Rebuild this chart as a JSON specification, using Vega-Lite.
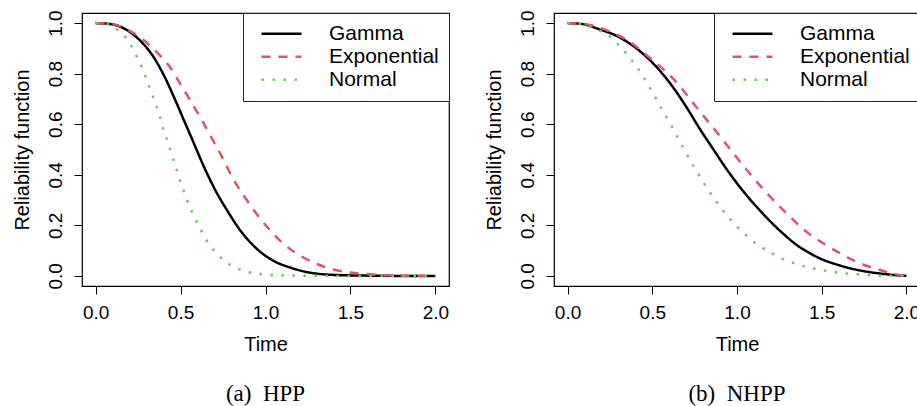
{
  "$schema": "https://vega.github.io/schema/vega-lite/v6.json",
  "padding": {"left": 11, "top": 9, "right": 0, "bottom": 0},
  "autosize": {"type": "pad"},
  "background": "white",
  "datasets": {
    "curves": [
      {"panel": "HPP", "curve": "Gamma", "time": 0, "reliability": 1},
      {"panel": "HPP", "curve": "Gamma", "time": 0.1, "reliability": 0.995},
      {"panel": "HPP", "curve": "Gamma", "time": 0.167, "reliability": 0.979},
      {"panel": "HPP", "curve": "Gamma", "time": 0.265, "reliability": 0.929},
      {"panel": "HPP", "curve": "Gamma", "time": 0.344, "reliability": 0.863},
      {"panel": "HPP", "curve": "Gamma", "time": 0.403, "reliability": 0.792},
      {"panel": "HPP", "curve": "Gamma", "time": 0.462, "reliability": 0.706},
      {"panel": "HPP", "curve": "Gamma", "time": 0.521, "reliability": 0.614},
      {"panel": "HPP", "curve": "Gamma", "time": 0.58, "reliability": 0.522},
      {"panel": "HPP", "curve": "Gamma", "time": 0.639, "reliability": 0.43},
      {"panel": "HPP", "curve": "Gamma", "time": 0.708, "reliability": 0.335},
      {"panel": "HPP", "curve": "Gamma", "time": 0.777, "reliability": 0.256},
      {"panel": "HPP", "curve": "Gamma", "time": 0.855, "reliability": 0.177},
      {"panel": "HPP", "curve": "Gamma", "time": 0.954, "reliability": 0.104},
      {"panel": "HPP", "curve": "Gamma", "time": 1.052, "reliability": 0.058},
      {"panel": "HPP", "curve": "Gamma", "time": 1.15, "reliability": 0.032},
      {"panel": "HPP", "curve": "Gamma", "time": 1.21, "reliability": 0.02},
      {"panel": "HPP", "curve": "Gamma", "time": 1.3, "reliability": 0.009},
      {"panel": "HPP", "curve": "Gamma", "time": 1.4, "reliability": 0.004},
      {"panel": "HPP", "curve": "Gamma", "time": 1.6, "reliability": 0.001},
      {"panel": "HPP", "curve": "Gamma", "time": 1.8, "reliability": 0},
      {"panel": "HPP", "curve": "Gamma", "time": 2, "reliability": 0},
      {"panel": "HPP", "curve": "Exponential", "time": 0, "reliability": 1},
      {"panel": "HPP", "curve": "Exponential", "time": 0.1, "reliability": 0.996},
      {"panel": "HPP", "curve": "Exponential", "time": 0.167, "reliability": 0.981},
      {"panel": "HPP", "curve": "Exponential", "time": 0.265, "reliability": 0.942},
      {"panel": "HPP", "curve": "Exponential", "time": 0.354, "reliability": 0.889},
      {"panel": "HPP", "curve": "Exponential", "time": 0.433, "reliability": 0.83},
      {"panel": "HPP", "curve": "Exponential", "time": 0.501, "reliability": 0.757},
      {"panel": "HPP", "curve": "Exponential", "time": 0.56, "reliability": 0.691},
      {"panel": "HPP", "curve": "Exponential", "time": 0.629, "reliability": 0.612},
      {"panel": "HPP", "curve": "Exponential", "time": 0.688, "reliability": 0.54},
      {"panel": "HPP", "curve": "Exponential", "time": 0.747, "reliability": 0.467},
      {"panel": "HPP", "curve": "Exponential", "time": 0.806, "reliability": 0.388},
      {"panel": "HPP", "curve": "Exponential", "time": 0.875, "reliability": 0.315},
      {"panel": "HPP", "curve": "Exponential", "time": 0.944, "reliability": 0.249},
      {"panel": "HPP", "curve": "Exponential", "time": 1.022, "reliability": 0.184},
      {"panel": "HPP", "curve": "Exponential", "time": 1.111, "reliability": 0.124},
      {"panel": "HPP", "curve": "Exponential", "time": 1.209, "reliability": 0.078},
      {"panel": "HPP", "curve": "Exponential", "time": 1.31, "reliability": 0.045},
      {"panel": "HPP", "curve": "Exponential", "time": 1.4, "reliability": 0.025},
      {"panel": "HPP", "curve": "Exponential", "time": 1.5, "reliability": 0.013},
      {"panel": "HPP", "curve": "Exponential", "time": 1.6, "reliability": 0.007},
      {"panel": "HPP", "curve": "Exponential", "time": 1.7, "reliability": 0.003},
      {"panel": "HPP", "curve": "Exponential", "time": 1.85, "reliability": 0.001},
      {"panel": "HPP", "curve": "Exponential", "time": 2, "reliability": 0},
      {"panel": "HPP", "curve": "Normal", "time": 0, "reliability": 1},
      {"panel": "HPP", "curve": "Normal", "time": 0.06, "reliability": 0.997},
      {"panel": "HPP", "curve": "Normal", "time": 0.118, "reliability": 0.979},
      {"panel": "HPP", "curve": "Normal", "time": 0.167, "reliability": 0.951},
      {"panel": "HPP", "curve": "Normal", "time": 0.206, "reliability": 0.916},
      {"panel": "HPP", "curve": "Normal", "time": 0.236, "reliability": 0.876},
      {"panel": "HPP", "curve": "Normal", "time": 0.265, "reliability": 0.837},
      {"panel": "HPP", "curve": "Normal", "time": 0.289, "reliability": 0.797},
      {"panel": "HPP", "curve": "Normal", "time": 0.311, "reliability": 0.757},
      {"panel": "HPP", "curve": "Normal", "time": 0.334, "reliability": 0.716},
      {"panel": "HPP", "curve": "Normal", "time": 0.356, "reliability": 0.676},
      {"panel": "HPP", "curve": "Normal", "time": 0.376, "reliability": 0.635},
      {"panel": "HPP", "curve": "Normal", "time": 0.393, "reliability": 0.594},
      {"panel": "HPP", "curve": "Normal", "time": 0.413, "reliability": 0.553},
      {"panel": "HPP", "curve": "Normal", "time": 0.433, "reliability": 0.513},
      {"panel": "HPP", "curve": "Normal", "time": 0.452, "reliability": 0.471},
      {"panel": "HPP", "curve": "Normal", "time": 0.472, "reliability": 0.43},
      {"panel": "HPP", "curve": "Normal", "time": 0.492, "reliability": 0.388},
      {"panel": "HPP", "curve": "Normal", "time": 0.513, "reliability": 0.347},
      {"panel": "HPP", "curve": "Normal", "time": 0.535, "reliability": 0.306},
      {"panel": "HPP", "curve": "Normal", "time": 0.559, "reliability": 0.267},
      {"panel": "HPP", "curve": "Normal", "time": 0.584, "reliability": 0.228},
      {"panel": "HPP", "curve": "Normal", "time": 0.614, "reliability": 0.19},
      {"panel": "HPP", "curve": "Normal", "time": 0.645, "reliability": 0.15},
      {"panel": "HPP", "curve": "Normal", "time": 0.68, "reliability": 0.115},
      {"panel": "HPP", "curve": "Normal", "time": 0.722, "reliability": 0.082},
      {"panel": "HPP", "curve": "Normal", "time": 0.771, "reliability": 0.053},
      {"panel": "HPP", "curve": "Normal", "time": 0.826, "reliability": 0.032},
      {"panel": "HPP", "curve": "Normal", "time": 0.887, "reliability": 0.017},
      {"panel": "HPP", "curve": "Normal", "time": 0.95, "reliability": 0.009},
      {"panel": "HPP", "curve": "Normal", "time": 1.013, "reliability": 0.004},
      {"panel": "HPP", "curve": "Normal", "time": 1.078, "reliability": 0.002},
      {"panel": "HPP", "curve": "Normal", "time": 1.2, "reliability": 0.001},
      {"panel": "HPP", "curve": "Normal", "time": 1.4, "reliability": 0},
      {"panel": "HPP", "curve": "Normal", "time": 2, "reliability": 0},
      {"panel": "NHPP", "curve": "Gamma", "time": 0, "reliability": 1},
      {"panel": "NHPP", "curve": "Gamma", "time": 0.1, "reliability": 0.995},
      {"panel": "NHPP", "curve": "Gamma", "time": 0.173, "reliability": 0.979},
      {"panel": "NHPP", "curve": "Gamma", "time": 0.291, "reliability": 0.949},
      {"panel": "NHPP", "curve": "Gamma", "time": 0.389, "reliability": 0.909},
      {"panel": "NHPP", "curve": "Gamma", "time": 0.468, "reliability": 0.865},
      {"panel": "NHPP", "curve": "Gamma", "time": 0.547, "reliability": 0.81},
      {"panel": "NHPP", "curve": "Gamma", "time": 0.625, "reliability": 0.744},
      {"panel": "NHPP", "curve": "Gamma", "time": 0.704, "reliability": 0.665},
      {"panel": "NHPP", "curve": "Gamma", "time": 0.783, "reliability": 0.579},
      {"panel": "NHPP", "curve": "Gamma", "time": 0.861, "reliability": 0.5},
      {"panel": "NHPP", "curve": "Gamma", "time": 0.94, "reliability": 0.421},
      {"panel": "NHPP", "curve": "Gamma", "time": 1.019, "reliability": 0.35},
      {"panel": "NHPP", "curve": "Gamma", "time": 1.117, "reliability": 0.272},
      {"panel": "NHPP", "curve": "Gamma", "time": 1.196, "reliability": 0.216},
      {"panel": "NHPP", "curve": "Gamma", "time": 1.274, "reliability": 0.166},
      {"panel": "NHPP", "curve": "Gamma", "time": 1.353, "reliability": 0.122},
      {"panel": "NHPP", "curve": "Gamma", "time": 1.432, "reliability": 0.089},
      {"panel": "NHPP", "curve": "Gamma", "time": 1.51, "reliability": 0.063},
      {"panel": "NHPP", "curve": "Gamma", "time": 1.589, "reliability": 0.045},
      {"panel": "NHPP", "curve": "Gamma", "time": 1.668, "reliability": 0.03},
      {"panel": "NHPP", "curve": "Gamma", "time": 1.746, "reliability": 0.019},
      {"panel": "NHPP", "curve": "Gamma", "time": 1.825, "reliability": 0.011},
      {"panel": "NHPP", "curve": "Gamma", "time": 1.904, "reliability": 0.005},
      {"panel": "NHPP", "curve": "Gamma", "time": 2, "reliability": 0},
      {"panel": "NHPP", "curve": "Exponential", "time": 0, "reliability": 1},
      {"panel": "NHPP", "curve": "Exponential", "time": 0.1, "reliability": 0.996},
      {"panel": "NHPP", "curve": "Exponential", "time": 0.252, "reliability": 0.966},
      {"panel": "NHPP", "curve": "Exponential", "time": 0.37, "reliability": 0.925},
      {"panel": "NHPP", "curve": "Exponential", "time": 0.468, "reliability": 0.872},
      {"panel": "NHPP", "curve": "Exponential", "time": 0.566, "reliability": 0.817},
      {"panel": "NHPP", "curve": "Exponential", "time": 0.655, "reliability": 0.757},
      {"panel": "NHPP", "curve": "Exponential", "time": 0.733, "reliability": 0.691},
      {"panel": "NHPP", "curve": "Exponential", "time": 0.812, "reliability": 0.625},
      {"panel": "NHPP", "curve": "Exponential", "time": 0.891, "reliability": 0.56},
      {"panel": "NHPP", "curve": "Exponential", "time": 0.969, "reliability": 0.493},
      {"panel": "NHPP", "curve": "Exponential", "time": 1.048, "reliability": 0.427},
      {"panel": "NHPP", "curve": "Exponential", "time": 1.127, "reliability": 0.364},
      {"panel": "NHPP", "curve": "Exponential", "time": 1.215, "reliability": 0.3},
      {"panel": "NHPP", "curve": "Exponential", "time": 1.304, "reliability": 0.24},
      {"panel": "NHPP", "curve": "Exponential", "time": 1.392, "reliability": 0.184},
      {"panel": "NHPP", "curve": "Exponential", "time": 1.49, "reliability": 0.137},
      {"panel": "NHPP", "curve": "Exponential", "time": 1.599, "reliability": 0.093},
      {"panel": "NHPP", "curve": "Exponential", "time": 1.707, "reliability": 0.055},
      {"panel": "NHPP", "curve": "Exponential", "time": 1.835, "reliability": 0.025},
      {"panel": "NHPP", "curve": "Exponential", "time": 1.963, "reliability": 0.003},
      {"panel": "NHPP", "curve": "Exponential", "time": 2, "reliability": 0},
      {"panel": "NHPP", "curve": "Normal", "time": 0, "reliability": 1},
      {"panel": "NHPP", "curve": "Normal", "time": 0.065, "reliability": 0.998},
      {"panel": "NHPP", "curve": "Normal", "time": 0.124, "reliability": 0.988},
      {"panel": "NHPP", "curve": "Normal", "time": 0.183, "reliability": 0.972},
      {"panel": "NHPP", "curve": "Normal", "time": 0.242, "reliability": 0.951},
      {"panel": "NHPP", "curve": "Normal", "time": 0.33, "reliability": 0.892},
      {"panel": "NHPP", "curve": "Normal", "time": 0.413, "reliability": 0.823},
      {"panel": "NHPP", "curve": "Normal", "time": 0.482, "reliability": 0.749},
      {"panel": "NHPP", "curve": "Normal", "time": 0.545, "reliability": 0.674},
      {"panel": "NHPP", "curve": "Normal", "time": 0.608, "reliability": 0.599},
      {"panel": "NHPP", "curve": "Normal", "time": 0.669, "reliability": 0.524},
      {"panel": "NHPP", "curve": "Normal", "time": 0.733, "reliability": 0.447},
      {"panel": "NHPP", "curve": "Normal", "time": 0.798, "reliability": 0.374},
      {"panel": "NHPP", "curve": "Normal", "time": 0.869, "reliability": 0.302},
      {"panel": "NHPP", "curve": "Normal", "time": 0.948, "reliability": 0.233},
      {"panel": "NHPP", "curve": "Normal", "time": 1.038, "reliability": 0.17},
      {"panel": "NHPP", "curve": "Normal", "time": 1.087, "reliability": 0.141},
      {"panel": "NHPP", "curve": "Normal", "time": 1.137, "reliability": 0.116},
      {"panel": "NHPP", "curve": "Normal", "time": 1.195, "reliability": 0.094},
      {"panel": "NHPP", "curve": "Normal", "time": 1.251, "reliability": 0.073},
      {"panel": "NHPP", "curve": "Normal", "time": 1.31, "reliability": 0.057},
      {"panel": "NHPP", "curve": "Normal", "time": 1.373, "reliability": 0.042},
      {"panel": "NHPP", "curve": "Normal", "time": 1.436, "reliability": 0.032},
      {"panel": "NHPP", "curve": "Normal", "time": 1.497, "reliability": 0.024},
      {"panel": "NHPP", "curve": "Normal", "time": 1.56, "reliability": 0.016},
      {"panel": "NHPP", "curve": "Normal", "time": 1.625, "reliability": 0.011},
      {"panel": "NHPP", "curve": "Normal", "time": 1.688, "reliability": 0.007},
      {"panel": "NHPP", "curve": "Normal", "time": 1.751, "reliability": 0.004},
      {"panel": "NHPP", "curve": "Normal", "time": 1.815, "reliability": 0.002},
      {"panel": "NHPP", "curve": "Normal", "time": 1.88, "reliability": 0.001},
      {"panel": "NHPP", "curve": "Normal", "time": 2, "reliability": 0}
    ]
  },
  "data": {"name": "curves"},
  "spacing": 32,
  "hconcat": [
    {
      "width": 367,
      "height": 273,
      "transform": [{"filter": "datum.panel === 'HPP'"}],
      "title": {"text": "(a)\u2002HPP"},
      "mark": {"type": "line", "strokeWidth": 2.5, "interpolate": "monotone"},
      "encoding": {
        "x": {"field": "time", "type": "quantitative", "title": "Time",
              "scale": {"domain": [-0.08, 2.08], "nice": false, "zero": false},
              "axis": {"values": [0, 0.5, 1, 1.5, 2], "format": ".1f", "titleY": 58, "titleBaseline": "middle"}},
        "y": {"field": "reliability", "type": "quantitative", "title": "Reliability function",
              "scale": {"domain": [-0.04, 1.04], "nice": false, "zero": false},
              "axis": {"values": [0, 0.2, 0.4, 0.6, 0.8, 1], "format": ".1f", "titleX": -60, "titleY": 136.5, "titleAngle": 270, "titleBaseline": "middle", "titleAlign": "center"}},
        "color": {"field": "curve", "type": "nominal", "title": null,
                  "scale": {"domain": ["Gamma", "Exponential", "Normal"], "range": ["#000000", "#DF536B", "#61D04F"]}},
        "strokeDash": {"field": "curve", "type": "nominal", "title": null,
                       "scale": {"domain": ["Gamma", "Exponential", "Normal"], "range": [[1, 0], [9, 8], [2.5, 8.5]]}}
      }
    },
    {
      "width": 366,
      "height": 273,
      "transform": [{"filter": "datum.panel === 'NHPP'"}],
      "title": {"text": "(b)\u2002NHPP"},
      "mark": {"type": "line", "strokeWidth": 2.5, "interpolate": "monotone"},
      "encoding": {
        "x": {"field": "time", "type": "quantitative", "title": "Time",
              "scale": {"domain": [-0.08, 2.08], "nice": false, "zero": false},
              "axis": {"values": [0, 0.5, 1, 1.5, 2], "format": ".1f", "titleY": 58, "titleBaseline": "middle"}},
        "y": {"field": "reliability", "type": "quantitative", "title": "Reliability function",
              "scale": {"domain": [-0.04, 1.04], "nice": false, "zero": false},
              "axis": {"values": [0, 0.2, 0.4, 0.6, 0.8, 1], "format": ".1f", "titleX": -60, "titleY": 136.5, "titleAngle": 270, "titleBaseline": "middle", "titleAlign": "center"}},
        "color": {"field": "curve", "type": "nominal", "title": null,
                  "scale": {"domain": ["Gamma", "Exponential", "Normal"], "range": ["#000000", "#DF536B", "#61D04F"]}},
        "strokeDash": {"field": "curve", "type": "nominal", "title": null,
                       "scale": {"domain": ["Gamma", "Exponential", "Normal"], "range": [[1, 0], [9, 8], [2.5, 8.5]]}}
      }
    }
  ],
  "resolve": {
    "scale": {"color": "independent", "strokeDash": "independent"},
    "legend": {"color": "independent", "strokeDash": "independent"}
  },
  "config": {
    "view": {"stroke": "black", "strokeWidth": 1.2},
    "title": {"orient": "bottom", "anchor": "middle", "font": "Liberation Serif", "fontSize": 23, "fontWeight": "normal", "color": "black", "offset": 29},
    "axis": {
      "domain": false, "grid": false, "ticks": true,
      "tickColor": "black", "tickSize": 8, "tickWidth": 1,
      "labelFont": "Liberation Sans", "labelFontSize": 19, "labelColor": "black",
      "labelFlush": false, "labelOverlap": false,
      "titleFont": "Liberation Sans", "titleFontSize": 20, "titleFontWeight": "normal", "titleColor": "black"
    },
    "axisX": {"labelPadding": 9.5},
    "axisY": {"labelAngle": -90, "labelAlign": "center", "labelBaseline": "bottom", "labelPadding": 8.7},
    "legend": {
      "orient": "top-right", "offset": 0,
      "strokeColor": "#222222", "fillColor": "white", "padding": 10, "cornerRadius": 0,
      "symbolType": "stroke", "symbolSize": 1600, "symbolStrokeWidth": 2.5, "symbolOffset": 7,
      "labelFont": "Liberation Sans", "labelFontSize": 21, "labelColor": "black", "labelOffset": 26, "labelLimit": 0,
      "rowPadding": 0, "clipHeight": 21.7
    }
  }
}
